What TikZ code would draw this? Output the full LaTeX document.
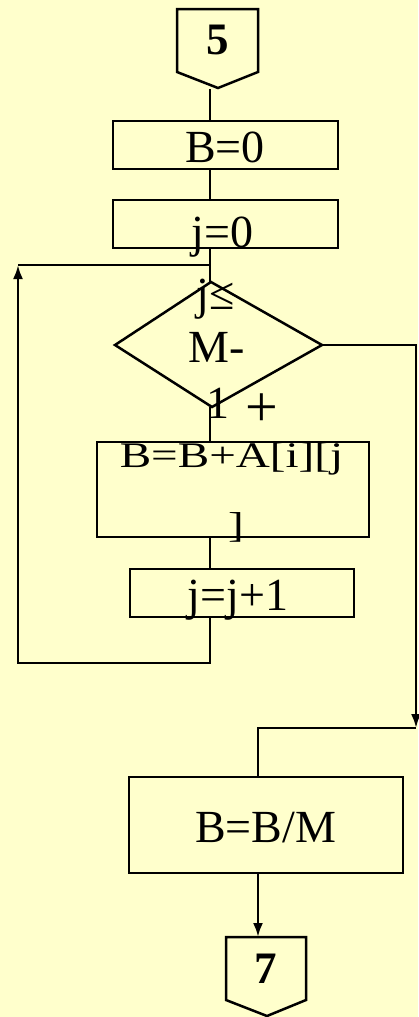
\documentclass[tikz,border=0pt]{standalone}
\usepackage{fontspec}
\setmainfont{Liberation Serif}
\usepackage{graphicx}
\usetikzlibrary{arrows.meta}
\definecolor{bg}{HTML}{FFFFCC}
\begin{document}
\begin{tikzpicture}[x=1pt,y=-1pt,line width=2.5pt,
  box/.style={draw,rectangle,inner sep=0pt},
  txt/.style={inner sep=0pt,anchor=base,font=\fontsize{46}{50}\selectfont},
  num/.style={inner sep=0pt,font=\fontsize{45}{50}\selectfont\bfseries},
  arr/.style={-{Latex[length=14pt,width=10pt]}}]
\fill[bg] (0,0) rectangle (418,1017);
\useasboundingbox (0,0) rectangle (418,1017);
% axis coordinates
\coordinate (ax) at (210,0);
\coordinate (bx) at (258,0);
% connector 5
\coordinate (p5tip) at (218,88);
\draw (177,9) -- (258,9) -- (258,72) -- (p5tip) -- (177,72) -- cycle;
\node[num] (n5) at (218,40) {5};
% boxes
\node[box,minimum width=225pt,minimum height=48pt] (b0) at (225.5,145) {};
\node[txt] (tb0) at (225,162) {B=0};
\node[box,minimum width=225pt,minimum height=48pt] (j0) at (225.5,224) {};
\node[txt] (tj0) at (222.5,247) {j=0};
% diamond
\coordinate (dtop) at (211,282);
\coordinate (dright) at (322,345);
\coordinate (dbot) at (212,407);
\coordinate (dleft) at (115,345);
\draw (dtop) -- (dright) -- (dbot) -- (dleft) -- cycle;
\node[txt] (tc1) at (216,309) {j≤};
\node[txt] (tc2) at (217,362) {M-};
\node[txt] (tc3) at (218,418) {1};
\node[inner sep=0pt,font=\fontsize{58}{60}\selectfont] (plus) at (262,410) {+};
% body boxes
\node[box,minimum width=272pt,minimum height=95pt] (bb) at (233,489.5) {};
\node[txt,font=\fontsize{36}{40}\selectfont] (tbb1) at (231.5,467) {\scalebox{1.31}[1]{B=B+A[i][j}};
\node[txt,font=\fontsize{36}{40}\selectfont] (tbb2) at (236,537) {\scalebox{1.31}[1]{]}};
\node[box,minimum width=224pt,minimum height=48pt] (jj) at (242,593) {};
\node[txt] (tjj) at (238,610) {j=j+1};
% B=B/M
\node[box,minimum width=274pt,minimum height=96pt] (bm) at (266,825) {};
\node[txt] (tbm) at (265.8,842) {B=B/M};
% connector 7
\coordinate (p7top) at (266,937);
\draw (226,937) -- (306,937) -- (306,1000) -- (267,1016) -- (226,1000) -- cycle;
\node[num] (n7) at (266,969) {7};
% main connectors
\draw (p5tip -| ax) ++(0,1) -- (b0.north -| ax);
\draw (b0.south -| ax) -- (j0.north -| ax);
\draw (j0.south -| ax) -- (dtop -| ax);
\draw (dbot -| ax) -- (bb.north -| ax);
\draw (bb.south -| ax) -- (jj.north -| ax);
% loop back
\coordinate (lbl) at (18,663);
\coordinate (ltl) at (18,265);
\draw[arr] (jj.south -| ax) -- (ax |- lbl) -- (lbl) -- (ltl);
\draw (ltl) -- (ltl -| ax);
% exit branch
\coordinate (rtr) at (416,345);
\coordinate (rbr) at (416,728);
\draw[arr] (dright) -- (rtr) -- (rbr);
\draw (rbr) -- (bx |- rbr) -- (bm.north -| bx);
\draw[arr] (bm.south -| bx) -- (p7top -| bx);
\end{tikzpicture}
\end{document}
